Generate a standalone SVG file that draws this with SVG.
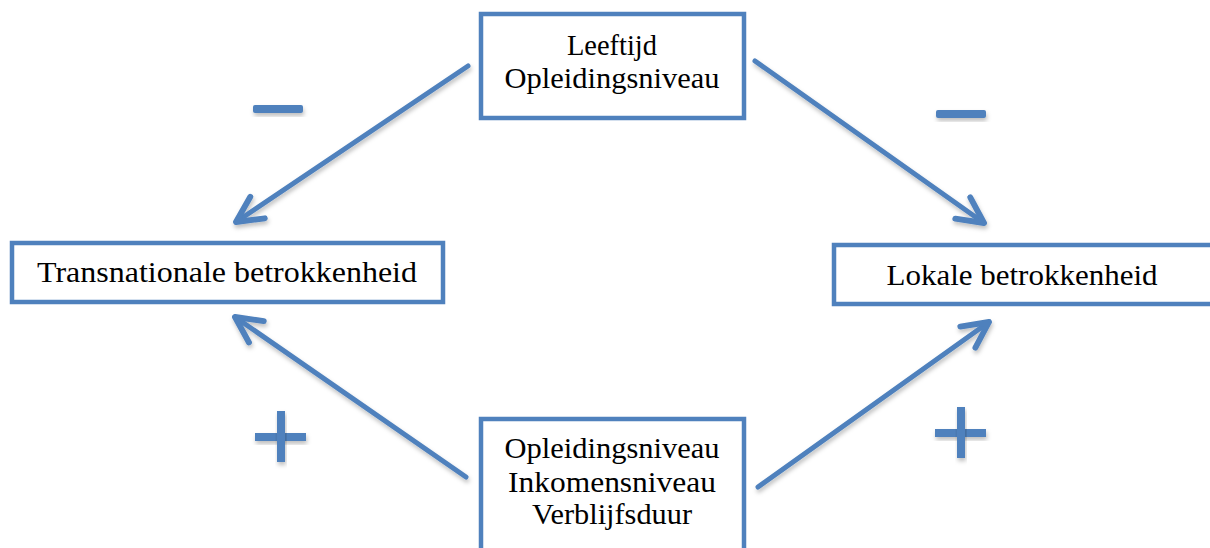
<svg xmlns="http://www.w3.org/2000/svg" width="1210" height="548" viewBox="0 0 1210 548">
<style>
.box{fill:#fff;stroke:#4F81BD;stroke-width:4.5}
.t{font-family:"Liberation Serif","DejaVu Serif",serif;font-size:29px;fill:#000;text-anchor:middle}
.c{stroke:#4F81BD;stroke-width:5;fill:none;stroke-linecap:round;stroke-linejoin:round;filter:url(#sh)}
.s{fill:#4F81BD;filter:url(#sh)}
</style>
<defs>
<filter id="sh" x="-20%" y="-20%" width="140%" height="160%">
<feDropShadow dx="1" dy="3" stdDeviation="2" flood-color="#000" flood-opacity="0.25"/>
</filter>
<marker id="ah" viewBox="0 0 10 10" refX="9" refY="5" markerWidth="6.5" markerHeight="6.5" markerUnits="strokeWidth" orient="auto">
<path d="M1,1 L9,5 L1,9" fill="none" stroke="#4F81BD" stroke-width="1.8" stroke-linecap="round" stroke-linejoin="round"/>
</marker>
</defs>
<g id="connectors">
<line class="c" x1="468" y1="66" x2="236" y2="222" marker-end="url(#ah)"/>
<line class="c" x1="755" y1="61" x2="984" y2="223" marker-end="url(#ah)"/>
<line class="c" x1="466" y1="477" x2="235" y2="317" marker-end="url(#ah)"/>
<line class="c" x1="758" y1="487" x2="989" y2="322" marker-end="url(#ah)"/>
</g>
<g id="signs">
<rect class="s" x="253" y="105" width="50" height="8" rx="2"/>
<rect class="s" x="936" y="110" width="50" height="8" rx="2"/>
<rect class="s" x="935" y="429" width="51" height="8"/>
<rect class="s" x="957" y="407" width="8" height="51"/>
<rect class="s" x="255" y="433" width="51" height="8"/>
<rect class="s" x="277" y="411" width="8" height="51"/>
</g>
<g id="top">
<rect class="box" x="481" y="14" width="263" height="104"/>
<text class="t" x="612" y="55" textLength="90" lengthAdjust="spacingAndGlyphs">Leeftijd</text>
<text class="t" x="612" y="88" textLength="215" lengthAdjust="spacingAndGlyphs">Opleidingsniveau</text>
</g>
<g id="left">
<rect class="box" x="12" y="243" width="431" height="59"/>
<text class="t" x="227" y="282" textLength="380" lengthAdjust="spacingAndGlyphs">Transnationale betrokkenheid</text>
</g>
<g id="right">
<rect class="box" x="834" y="245" width="380" height="59"/>
<text class="t" x="1022" y="285" textLength="271" lengthAdjust="spacingAndGlyphs">Lokale betrokkenheid</text>
</g>
<g id="bottom">
<rect class="box" x="481" y="419" width="263" height="140"/>
<text class="t" x="612" y="458" textLength="215" lengthAdjust="spacingAndGlyphs">Opleidingsniveau</text>
<text class="t" x="612" y="492" textLength="208" lengthAdjust="spacingAndGlyphs">Inkomensniveau</text>
<text class="t" x="612" y="524" textLength="160" lengthAdjust="spacingAndGlyphs">Verblijfsduur</text>
</g>
</svg>
